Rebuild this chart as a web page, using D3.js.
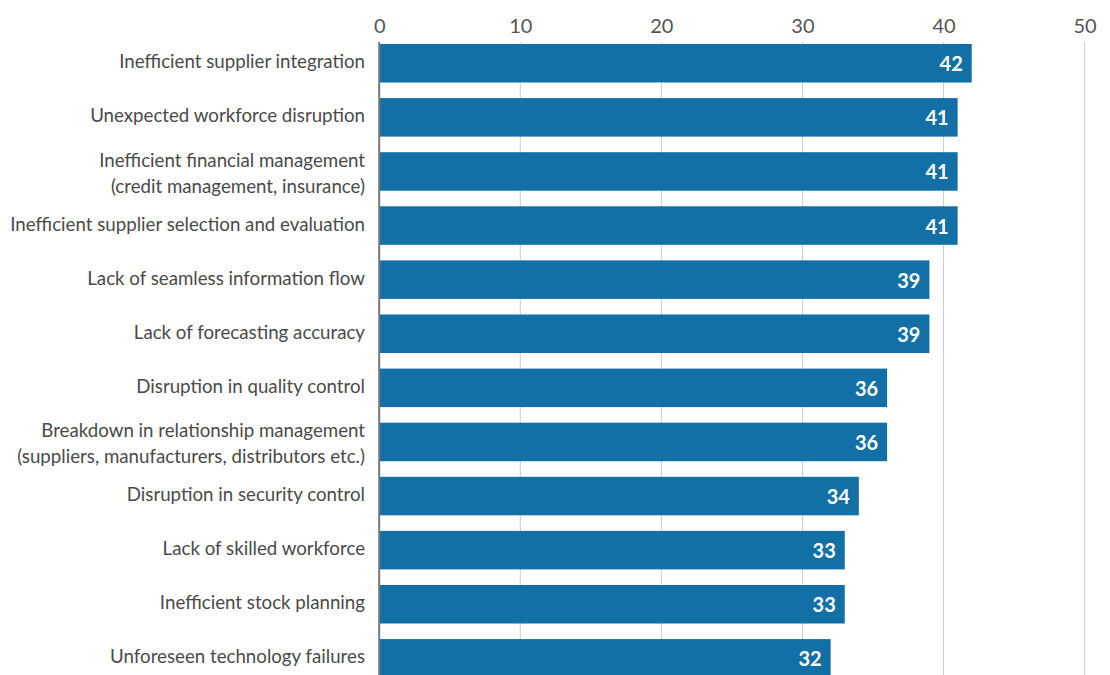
<!DOCTYPE html>
<html>
<head>
<meta charset="utf-8">
<script src="https://cdn.jsdelivr.net/npm/d3@7"></script>
<style>
  html, body { margin: 0; padding: 0; background: #fff; }
  svg { display: block; }
</style>
</head>
<body>
<svg id="chart" width="1110" height="675"></svg>
<script>
// Supply chain risk factors, share of respondents (%)
const categories = [
  ["Inefficient supplier integration"],
  ["Unexpected workforce disruption"],
  ["Inefficient financial management", "(credit management, insurance)"],
  ["Inefficient supplier selection and evaluation"],
  ["Lack of seamless information flow"],
  ["Lack of forecasting accuracy"],
  ["Disruption in quality control"],
  ["Breakdown in relationship management", "(suppliers, manufacturers, distributors etc.)"],
  ["Disruption in security control"],
  ["Lack of skilled workforce"],
  ["Inefficient stock planning"],
  ["Unforeseen technology failures"]
];
const values = [42, 41, 41, 41, 39, 39, 36, 36, 34, 33, 33, 32];
const tickValues = [0, 10, 20, 30, 40, 50];

const svg = d3.select("#chart");
const font = "Lato, 'Open Sans', sans-serif";

const x = d3.scaleLinear().domain([0, 50]).range([379.2, 1084.6]);
const y = d3.scaleBand()
  .domain(d3.range(categories.length))
  .range([36.2, 685.4])
  .paddingInner(0.288)
  .paddingOuter(0.144);

// Gridlines
svg.append("g")
  .selectAll("line")
  .data(tickValues.filter(d => d > 0))
  .join("line")
  .attr("x1", d => x(d)).attr("x2", d => x(d))
  .attr("y1", 42).attr("y2", 675)
  .attr("stroke", "#cccccc")
  .attr("stroke-width", 1);

// Top axis labels
const axis = svg.append("g")
  .attr("transform", "translate(0,33)")
  .call(d3.axisTop(x).tickValues(tickValues).tickSize(0).tickPadding(0));
axis.select(".domain").remove();
axis.selectAll("text")
  .attr("font-family", font)
  .attr("font-size", 20)
  .attr("fill", "#555555");

// Bars
svg.append("g")
  .selectAll("rect")
  .data(values)
  .join("rect")
  .attr("x", x(0))
  .attr("y", (d, i) => y(i))
  .attr("width", d => x(d) - x(0))
  .attr("height", y.bandwidth())
  .attr("fill", "#1270a7");

// Zero baseline
svg.append("line")
  .attr("x1", x(0)).attr("x2", x(0))
  .attr("y1", 42).attr("y2", 675)
  .attr("stroke", "#777777")
  .attr("stroke-width", 2);

// Value labels inside bars
svg.append("g")
  .selectAll("text")
  .data(values)
  .join("text")
  .attr("x", d => x(d) - 9)
  .attr("y", (d, i) => y(i) + y.bandwidth() / 2 + 8)
  .attr("text-anchor", "end")
  .attr("font-family", font)
  .attr("font-weight", "bold")
  .attr("font-size", 20)
  .attr("fill", "#ffffff")
  .text(d => d);

// Category labels
const lineH = 25.6;
const labels = svg.append("g")
  .selectAll("text")
  .data(categories)
  .join("text")
  .attr("x", 365)
  .attr("y", (d, i) => y(i) + y.bandwidth() / 2 + 5 - (d.length - 1) * 9.5)
  .attr("text-anchor", "end")
  .attr("font-family", font)
  .attr("font-size", 18.7)
  .attr("fill", "#4a4a4a");
labels.selectAll("tspan")
  .data(d => d)
  .join("tspan")
  .attr("x", 365)
  .attr("dy", (d, i) => i === 0 ? 0 : lineH)
  .text(d => d);
</script>
</body>
</html>
